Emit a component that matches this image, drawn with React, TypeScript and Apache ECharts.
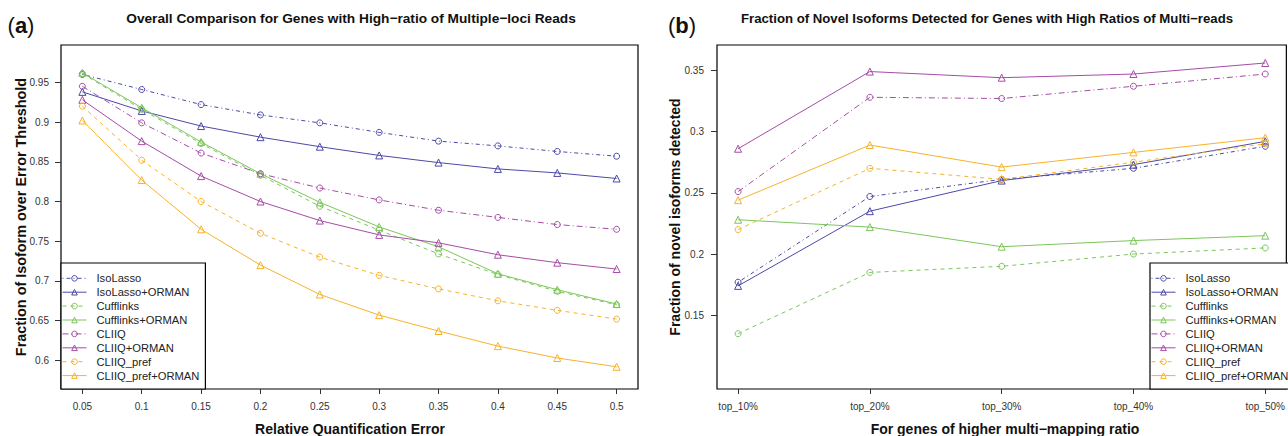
import { useEffect, useRef } from "react";
import * as echarts from "echarts";

const methodNames = [
  "IsoLasso",
  "IsoLasso+ORMAN",
  "Cufflinks",
  "Cufflinks+ORMAN",
  "CLIIQ",
  "CLIIQ+ORMAN",
  "CLIIQ_pref",
  "CLIIQ_pref+ORMAN",
];

// Panel (a)
const errorThresholds = [0.05, 0.1, 0.15, 0.2, 0.25, 0.3, 0.35, 0.4, 0.45, 0.5];
const yTicksA = [0.6, 0.65, 0.7, 0.75, 0.8, 0.85, 0.9, 0.95];
const isoLassoA = [0.96, 0.941, 0.922, 0.909, 0.899, 0.887, 0.876, 0.87, 0.863, 0.857];
const isoLassoOrmanA = [0.938, 0.914, 0.895, 0.881, 0.869, 0.858, 0.849, 0.841, 0.836, 0.829];
const cufflinksA = [0.961, 0.916, 0.873, 0.833, 0.794, 0.764, 0.734, 0.708, 0.687, 0.67];
const cufflinksOrmanA = [0.962, 0.918, 0.875, 0.835, 0.799, 0.768, 0.743, 0.709, 0.689, 0.671];
const cliiqA = [0.945, 0.899, 0.861, 0.835, 0.817, 0.802, 0.789, 0.78, 0.771, 0.765];
const cliiqOrmanA = [0.928, 0.876, 0.832, 0.8, 0.776, 0.758, 0.748, 0.733, 0.723, 0.715];
const cliiqPrefA = [0.92, 0.852, 0.8, 0.76, 0.73, 0.707, 0.69, 0.675, 0.663, 0.652];
const cliiqPrefOrmanA = [0.902, 0.827, 0.765, 0.72, 0.683, 0.657, 0.637, 0.618, 0.603, 0.592];

// Panel (b)
const categoriesB = ["top_10%", "top_20%", "top_30%", "top_40%", "top_50%"];
const yTicksB = [0.15, 0.2, 0.25, 0.3, 0.35];
const isoLassoB = [0.177, 0.247, 0.261, 0.27, 0.288];
const isoLassoOrmanB = [0.174, 0.235, 0.26, 0.273, 0.292];
const cufflinksB = [0.135, 0.185, 0.19, 0.2, 0.205];
const cufflinksOrmanB = [0.228, 0.222, 0.206, 0.211, 0.215];
const cliiqB = [0.251, 0.328, 0.327, 0.337, 0.347];
const cliiqOrmanB = [0.286, 0.349, 0.344, 0.347, 0.356];
const cliiqPrefB = [0.22, 0.27, 0.261, 0.275, 0.29];
const cliiqPrefOrmanB = [0.244, 0.289, 0.271, 0.283, 0.295];

const valuesA = [isoLassoA, isoLassoOrmanA, cufflinksA, cufflinksOrmanA, cliiqA, cliiqOrmanA, cliiqPrefA, cliiqPrefOrmanA];
const valuesB = [isoLassoB, isoLassoOrmanB, cufflinksB, cufflinksOrmanB, cliiqB, cliiqOrmanB, cliiqPrefB, cliiqPrefOrmanB];

const COLORS = ["#4b49a8", "#7cc65a", "#a64ca6", "#f7b22a"];
const DASHES: any[] = [[1, 3, 4, 3], [4, 4], [6, 3, 1, 3], [4, 4]];
const FONT = "'Liberation Sans', Arial, Helvetica, sans-serif";

function seriesStyle(i: number) {
  const color = COLORS[Math.floor(i / 2)];
  const orman = i % 2 === 1;
  return {
    type: "line" as const,
    symbol: orman ? "triangle" : "circle",
    symbolSize: orman ? 7 : 6,
    showAllSymbol: true,
    lineStyle: { color, width: 1, type: orman ? "solid" : DASHES[Math.floor(i / 2)] },
    itemStyle: { color: "rgba(255,255,255,0)", borderColor: color, borderWidth: 1 },
    emphasis: { disabled: true },
  };
}

function legendOpt(left: number) {
  return {
    orient: "vertical",
    left,
    top: 263,
    data: methodNames,
    itemWidth: 24,
    itemHeight: 7,
    itemGap: 0,
    padding: [8.35, 6, 6.45, 1],
    borderColor: "#000",
    borderWidth: 1.2,
    backgroundColor: "#fff",
    selectedMode: false,
    itemStyle: { borderWidth: 1 },
    lineStyle: { width: 1 },
    textStyle: { fontSize: 11.2, lineHeight: 13.9, color: "#222", fontFamily: FONT, padding: [0, 0, 0, 5] },
  };
}

const tickLabel = { fontSize: 10, color: "#333", fontFamily: FONT };

export default function App() {
  const ref = useRef<HTMLDivElement>(null);
  useEffect(() => {
    if (!ref.current) return;
    const chart = echarts.init(ref.current, null, { renderer: "svg" });
    const series: any[] = [];
    methodNames.forEach((name, i) => {
      series.push({
        ...seriesStyle(i),
        name,
        xAxisIndex: 0,
        yAxisIndex: 0,
        data: errorThresholds.map((x, j) => [x, valuesA[i][j]]),
      });
    });
    methodNames.forEach((name, i) => {
      series.push({
        ...seriesStyle(i),
        name,
        xAxisIndex: 1,
        yAxisIndex: 1,
        data: categoriesB.map((_, j) => [j + 1, valuesB[i][j]]),
      });
    });
    const titleStyle = { fontSize: 13.2, fontWeight: "bold", fontFamily: FONT, fill: "#111", align: "center", verticalAlign: "middle" };
    const axisTitleStyle = { fontSize: 14, fontWeight: "bold", fontFamily: FONT, fill: "#111", align: "center", verticalAlign: "middle" };
    const panelTag = (x: number, letter: string) => ({
      type: "text",
      x,
      y: 25,
      style: {
        text: `{p|(}{b|${letter}}{p|)}`,
        align: "center",
        verticalAlign: "middle",
        rich: {
          p: { fontSize: 22, fontFamily: FONT, fill: "#111" },
          b: { fontSize: 22, fontFamily: FONT, fontWeight: "bold", fill: "#111" },
        },
      },
    });
    chart.setOption({
      animation: false,
      grid: [
        { left: 61, top: 45, width: 577, height: 344, show: true, borderColor: "#000", borderWidth: 1.2, backgroundColor: "transparent" },
        { left: 717, top: 45, width: 577, height: 344, show: true, borderColor: "#000", borderWidth: 1.2, backgroundColor: "transparent" },
      ],
      xAxis: [
        {
          type: "value",
          gridIndex: 0,
          min: 0.032,
          max: 0.518,
          axisLine: { show: false },
          splitLine: { show: false },
          axisTick: { show: true, length: 5, lineStyle: { color: "#333" }, customValues: errorThresholds },
          axisLabel: { ...tickLabel, margin: 12, customValues: errorThresholds, formatter: (v: number) => String(v) },
        },
        {
          type: "value",
          gridIndex: 1,
          min: 0.84,
          max: 5.16,
          axisLine: { show: false },
          splitLine: { show: false },
          axisTick: { show: true, length: 5, lineStyle: { color: "#333" }, customValues: [1, 2, 3, 4, 5] },
          axisLabel: { ...tickLabel, margin: 12, customValues: [1, 2, 3, 4, 5], formatter: (v: number) => categoriesB[Math.round(v) - 1] ?? "" },
        },
      ],
      yAxis: [
        {
          type: "value",
          gridIndex: 0,
          min: 0.564,
          max: 0.997,
          axisLine: { show: false },
          splitLine: { show: false },
          axisTick: { show: true, length: 6, lineStyle: { color: "#333" }, customValues: yTicksA },
          axisLabel: { ...tickLabel, margin: 12, customValues: yTicksA, formatter: (v: number) => String(v) },
        },
        {
          type: "value",
          gridIndex: 1,
          min: 0.0898,
          max: 0.3707,
          axisLine: { show: false },
          splitLine: { show: false },
          axisTick: { show: true, length: 6, lineStyle: { color: "#333" }, customValues: yTicksB },
          axisLabel: { ...tickLabel, margin: 13, customValues: yTicksB, formatter: (v: number) => String(v) },
        },
      ],
      legend: [legendOpt(61), legendOpt(1150)],
      series,
      graphic: [
        panelTag(21, "a"),
        panelTag(682, "b"),
        { type: "text", x: 351, y: 18, style: { ...titleStyle, fontSize: 13.7, text: "Overall Comparison for Genes with High\u2212ratio of Multiple\u2212loci Reads" } },
        { type: "text", x: 987, y: 18, style: { ...titleStyle, text: "Fraction of Novel Isoforms Detected for Genes with High Ratios of Multi\u2212reads" } },
        { type: "text", x: 350, y: 429, style: { ...axisTitleStyle, text: "Relative Quantification Error" } },
        { type: "text", x: 1005, y: 429, style: { ...axisTitleStyle, text: "For genes of higher multi\u2212mapping ratio" } },
        { type: "text", x: 21, y: 217, rotation: Math.PI / 2, style: { ...axisTitleStyle, fontSize: 14.4, text: "Fraction of Isoform over Error Threshold" } },
        { type: "text", x: 675, y: 217, rotation: Math.PI / 2, style: { ...axisTitleStyle, text: "Fraction of novel isoforms detected" } },
      ],
    });
    return () => chart.dispose();
  }, []);
  return <div ref={ref} style={{ position: "absolute", left: 0, top: 0, width: 1288, height: 436, background: "#fff" }} />;
}
